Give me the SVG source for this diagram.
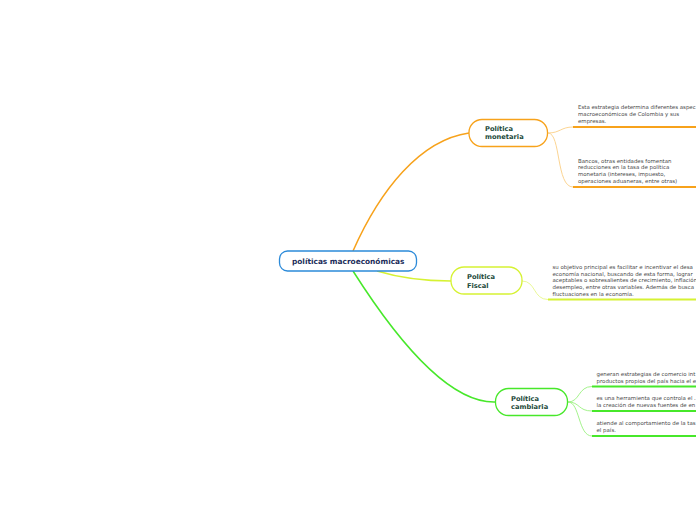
<svg xmlns="http://www.w3.org/2000/svg" width="696" height="520" viewBox="0 0 696 520">
<style>
.bg{fill:#ffffff}
.node{fill:#ffffff;stroke-width:1.3}
.nt{font-family:"DejaVu Sans",Verdana,sans-serif;font-weight:bold;font-size:6.7px;fill:#1d4a3a}
.ct{font-family:"DejaVu Sans",Verdana,sans-serif;font-weight:bold;font-size:7.4px;fill:#1c2d5a}
.dt{font-family:"DejaVu Sans",Verdana,sans-serif;font-size:5.45px;fill:#4a4a4a}
.ul{fill:none;stroke-width:1.8}
.main{fill:none;stroke-width:1.5}
.sub{fill:none;stroke-width:0.9}
</style>
<rect class="bg" x="0" y="0" width="696" height="520"/>
<g id="connectors">
  <path class="main" stroke="#f7a21b" d="M353,251 C380,190 420,140 469,133"/>
  <path class="main" stroke="#47e82a" d="M353,271 C400,345 450,403 495,402"/>
  <path class="main" stroke="#d6f233" d="M377,271 C400,278 421,281 451,281"/>
  <path class="sub" stroke="#fbcf86" d="M548,133 C560,133 561,127 573,127"/>
  <path class="sub" stroke="#fbcf86" d="M548,133 C561,133 556,187 573,187"/>
  <path class="sub" stroke="#e6f78a" d="M522,281 C536,281 533,299.5 548,299.5"/>
  <path class="sub" stroke="#98f07e" d="M568,402 C580,402 578,386.5 592,386.5"/>
  <path class="sub" stroke="#98f07e" d="M568,402 C580,402 578,411 592,411"/>
  <path class="sub" stroke="#98f07e" d="M568,402 C580,402 578,436 592,436"/>
  <line class="ul" stroke="#f7a21b" x1="573" y1="127" x2="696" y2="127"/>
  <line class="ul" stroke="#f7a21b" x1="573" y1="187" x2="696" y2="187"/>
  <line class="ul" stroke="#d6f233" x1="548" y1="299.5" x2="696" y2="299.5"/>
  <line class="ul" stroke="#47e82a" x1="592" y1="386.5" x2="696" y2="386.5"/>
  <line class="ul" stroke="#47e82a" x1="592" y1="411" x2="696" y2="411"/>
  <line class="ul" stroke="#47e82a" x1="592" y1="436" x2="696" y2="436"/>
</g>
<g id="central">
  <rect class="node" stroke="#2b8ad9" x="279.5" y="251" width="137" height="20" rx="8"/>
  <text class="ct" x="292" y="264">políticas macroeconómicas</text>
</g>
<g id="monetaria">
  <rect class="node" stroke="#f7a21b" x="469" y="119.5" width="78.5" height="27" rx="13"/>
  <text class="nt" x="485" y="131.3">Política</text>
  <text class="nt" x="485" y="139">monetaria</text>
</g>
<g id="fiscal">
  <rect class="node" stroke="#d6f233" x="451" y="267" width="71" height="27" rx="13"/>
  <text class="nt" x="467" y="279">Política</text>
  <text class="nt" x="467" y="287.5">Fiscal</text>
</g>
<g id="cambiaria">
  <rect class="node" stroke="#47e82a" x="495.5" y="388.5" width="72" height="27" rx="13"/>
  <text class="nt" x="511" y="400.5">Política</text>
  <text class="nt" x="511" y="409">cambiaria</text>
</g>
<g id="mon-text1">
  <text class="dt" x="578" y="108.5">Esta estrategia determina diferentes aspec</text>
  <text class="dt" x="578" y="115.5">macroeconómicos de Colombia y sus</text>
  <text class="dt" x="578" y="122.5">empresas.</text>
</g>
<g id="mon-text2">
  <text class="dt" x="578" y="162.5">Bancos, otras entidades fomentan</text>
  <text class="dt" x="578" y="169.3">reducciones en la tasa de política</text>
  <text class="dt" x="578" y="176.1">monetaria (intereses, impuesto,</text>
  <text class="dt" x="578" y="182.9">operaciones aduaneras, entre otras)</text>
</g>
<g id="fis-text">
  <text class="dt" x="552.5" y="268.8">su objetivo principal es facilitar e incentivar el desa</text>
  <text class="dt" x="552.5" y="275.5">economía nacional, buscando de esta forma, lograr</text>
  <text class="dt" x="552.5" y="282.2">aceptables o sobresalientes de crecimiento, inflación</text>
  <text class="dt" x="552.5" y="288.9">desempleo, entre otras variables. Además de busca</text>
  <text class="dt" x="552.5" y="295.6">fluctuaciones en la economía.</text>
</g>
<g id="cam-text1">
  <text class="dt" x="596.5" y="376">generan estrategias de comercio int</text>
  <text class="dt" x="596.5" y="382.8">productos propios del país hacia el e</text>
</g>
<g id="cam-text2">
  <text class="dt" x="596.5" y="400.3">es una herramienta que controla el .</text>
  <text class="dt" x="596.5" y="407.1">la creación de nuevas fuentes de en</text>
</g>
<g id="cam-text3">
  <text class="dt" x="596.5" y="425">atiende al comportamiento de la tas</text>
  <text class="dt" x="596.5" y="431.8">el país.</text>
</g>
</svg>
